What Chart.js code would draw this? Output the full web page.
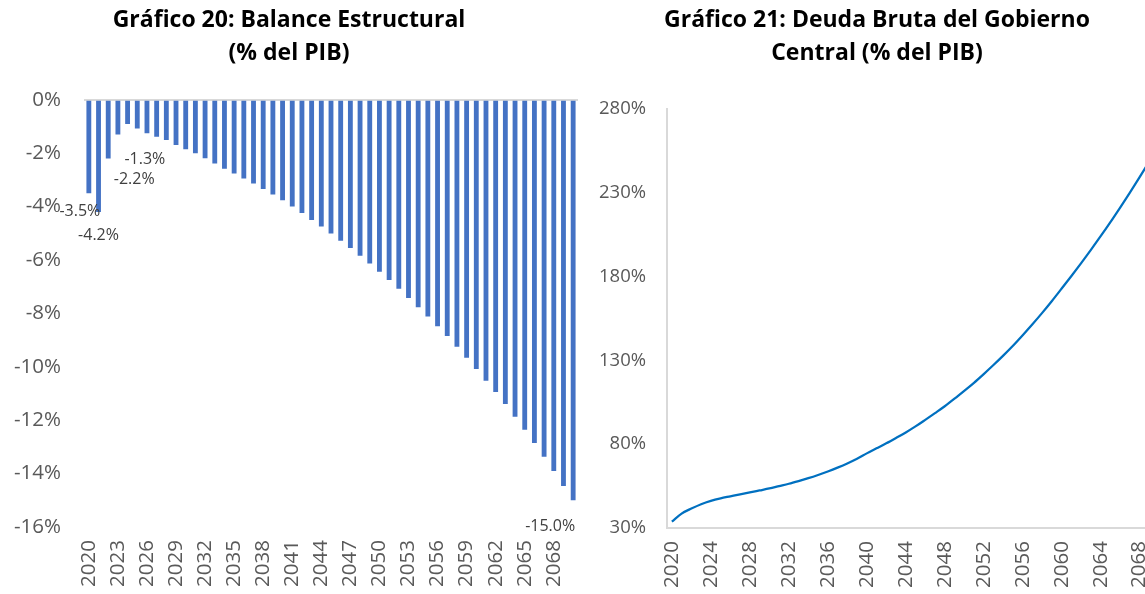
<!DOCTYPE html>
<html>
<head>
<meta charset="utf-8">
<script src="https://cdn.jsdelivr.net/npm/chart.js@4"></script>
<style>
  html, body { margin: 0; padding: 0; background: #fff; overflow: hidden; }
  canvas { position: absolute; top: 0; }
  #graficoBalance { left: 0; }
  #graficoDeuda { left: 590px; }
</style>
</head>
<body>
<canvas id="graficoBalance" width="590" height="594"></canvas>
<canvas id="graficoDeuda" width="580" height="594"></canvas>
<script>
// Años 2020-2070
const anios = [];
for (let a = 2020; a <= 2070; a++) anios.push(String(a));

// Balance estructural (% del PIB)
const balance = [
  -3.5, -4.2, -2.2, -1.3, -0.91, -1.08, -1.25, -1.38, -1.51, -1.69,
  -1.85, -2.0, -2.19, -2.39, -2.58, -2.76, -2.95, -3.14, -3.34, -3.55,
  -3.76, -4.0, -4.24, -4.5, -4.75, -5.01, -5.28, -5.55, -5.84, -6.13,
  -6.44, -6.75, -7.08, -7.42, -7.77, -8.12, -8.48, -8.85, -9.25, -9.66,
  -10.08, -10.52, -10.94, -11.39, -11.87, -12.36, -12.85, -13.37, -13.9, -14.46,
  -15.0
];

// Deuda bruta del Gobierno Central (% del PIB)
const deuda = [
  33.8, 38.6, 41.6, 44.2, 46.2, 47.7, 48.9, 50.1, 51.2, 52.4,
  53.6, 55.0, 56.4, 58.0, 59.7, 61.6, 63.7, 66.0, 68.5, 71.3,
  74.5, 77.5, 80.5, 83.7, 87.0, 90.6, 94.5, 98.5, 102.6, 107.1,
  111.8, 116.6, 121.8, 127.2, 132.8, 138.7, 145.0, 151.5, 158.3, 165.4,
  172.8, 180.3, 188.0, 195.9, 204.0, 212.4, 221.1, 230.0, 239.2, 248.6,
  258.2
];

// Años con etiqueta de dato en el gráfico 20
const aniosEtiquetados = ['2020', '2021', '2022', '2023', '2070'];

const FUENTE = "'Open Sans', sans-serif";
const GRIS_TEXTO = '#595959';
const GRIS_EJE = '#d9d9d9';

// posiciones de las etiquetas (desplazamiento respecto al extremo de la barra)
const desplazamientos = {
  '2020': [-9, 18], '2021': [0, 24], '2022': [26, 21], '2023': [27, 25], '2070': [-23, 26]
};

const etiquetasBalance = {
  id: 'etiquetasBalance',
  afterDatasetsDraw(chart) {
    const ctx = chart.ctx;
    const meta = chart.getDatasetMeta(0);
    ctx.save();
    ctx.font = '16px ' + FUENTE;
    ctx.fillStyle = '#404040';
    ctx.textAlign = 'center';
    ctx.textBaseline = 'middle';
    aniosEtiquetados.forEach(a => {
      const i = anios.indexOf(a);
      const barra = meta.data[i];
      const d = desplazamientos[a];
      ctx.fillText(balance[i].toFixed(1) + '%', barra.x + d[0], barra.y + d[1]);
    });
    ctx.restore();
  }
};

function tituloGrafico(lineas, abajo) {
  return {
    display: true,
    text: lineas,
    color: '#000',
    font: { family: FUENTE, size: 23, weight: 'bold', lineHeight: 1.43 },
    padding: { top: 4, bottom: abajo }
  };
}

// el eje x no reserva margen lateral para las etiquetas giradas
function ajustarEjeX(alto) {
  return s => { s.height = alto; s.paddingLeft = 0; s.paddingRight = 0; };
}

new Chart(document.getElementById('graficoBalance'), {
  type: 'bar',
  data: {
    labels: anios,
    datasets: [{
      data: balance,
      backgroundColor: '#4472C4',
      categoryPercentage: 1,
      barPercentage: 0.5
    }]
  },
  options: {
    responsive: false,
    animation: false,
    layout: { padding: { left: 0, right: 12, top: 0, bottom: 0 } },
    plugins: {
      legend: { display: false },
      tooltip: { enabled: false },
      title: tituloGrafico(['Gráfico 20: Balance Estructural', '(% del PIB)'], 30)
    },
    scales: {
      x: {
        grid: { display: false },
        border: { display: false },
        ticks: {
          autoSkip: false,
          minRotation: 90,
          maxRotation: 90,
          padding: 5,
          color: GRIS_TEXTO,
          font: { family: FUENTE, size: 20.5 },
          callback: function(v, i) { return i % 3 === 0 ? this.getLabelForValue(v) : ''; }
        },
        afterFit: ajustarEjeX(67)
      },
      y: {
        min: -16,
        max: 0,
        grid: {
          drawTicks: false,
          color: c => c.tick.value === 0 ? GRIS_EJE : 'rgba(0,0,0,0)',
          lineWidth: 2
        },
        border: { display: false },
        ticks: {
          stepSize: 2,
          padding: 23,
          color: GRIS_TEXTO,
          font: { family: FUENTE, size: 20.5 },
          callback: v => v + '%'
        },
        afterFit: s => { s.width = 84; }
      }
    }
  },
  plugins: [etiquetasBalance]
});

new Chart(document.getElementById('graficoDeuda'), {
  type: 'line',
  data: {
    labels: anios,
    datasets: [{
      data: deuda,
      borderColor: '#0070C0',
      borderWidth: 2.25,
      pointRadius: 0,
      cubicInterpolationMode: 'monotone',
      fill: false
    }]
  },
  options: {
    responsive: false,
    animation: false,
    layout: { padding: { left: 0, right: 6, top: 0, bottom: 0 } },
    plugins: {
      legend: { display: false },
      tooltip: { enabled: false },
      title: tituloGrafico(['Gráfico 21: Deuda Bruta del Gobierno', 'Central (% del PIB)'], 39)
    },
    scales: {
      x: {
        offset: true,
        grid: { display: false },
        border: { display: true, color: GRIS_EJE, width: 2 },
        ticks: {
          autoSkip: false,
          minRotation: 90,
          maxRotation: 90,
          padding: 5,
          color: GRIS_TEXTO,
          font: { family: FUENTE, size: 20.5 },
          callback: function(v, i) { return i % 4 === 0 ? this.getLabelForValue(v) : ''; }
        },
        afterFit: ajustarEjeX(66)
      },
      y: {
        min: 30,
        max: 280,
        grid: { display: false, drawTicks: false },
        border: { display: true, color: GRIS_EJE, width: 2 },
        ticks: {
          stepSize: 50,
          padding: 21,
          color: GRIS_TEXTO,
          font: { family: FUENTE, size: 18.5 },
          callback: v => v + '%'
        },
        afterFit: s => { s.width = 77; }
      }
    }
  }
});
</script>
</body>
</html>
